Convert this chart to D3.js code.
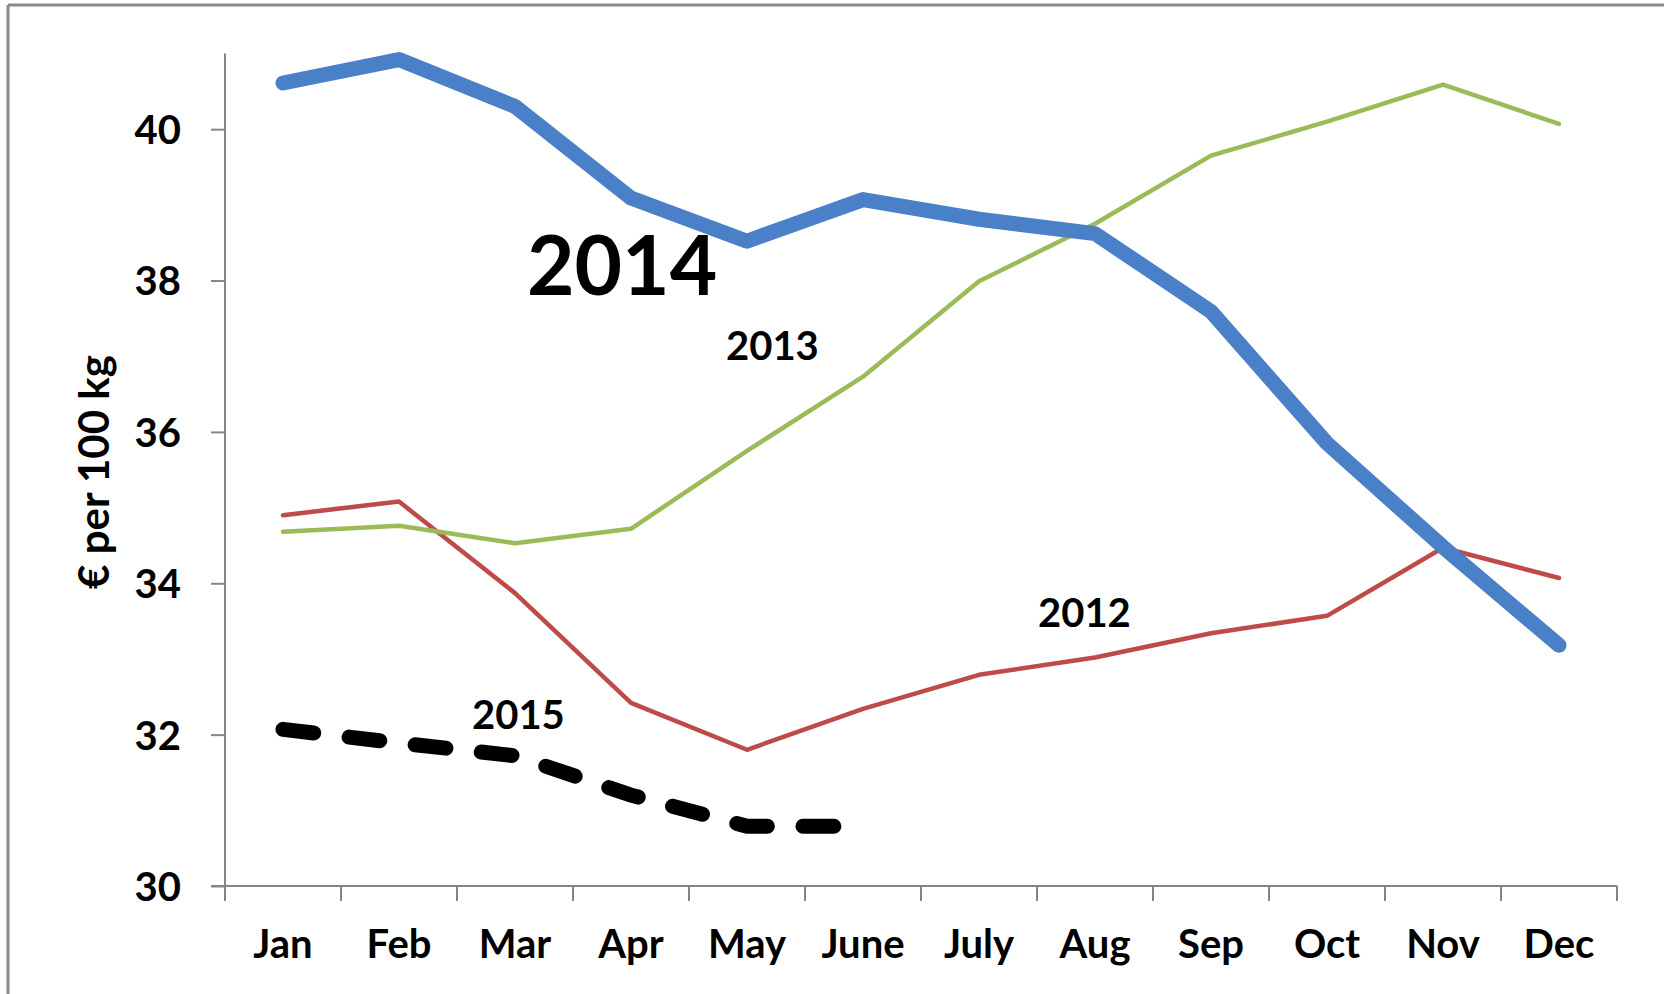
<!DOCTYPE html>
<html>
<head>
<meta charset="utf-8">
<script src="https://cdn.jsdelivr.net/npm/d3@7"></script>
<style>
  html, body { margin: 0; padding: 0; background: #fff; }
  svg { display: block; }
  text { font-family: Lato, "Open Sans", sans-serif; font-weight: bold; fill: #000; }
</style>
</head>
<body>
<svg id="chart" width="1664" height="994"></svg>
<script>
const months = ["Jan","Feb","Mar","Apr","May","June","July","Aug","Sep","Oct","Nov","Dec"];
const yTicks = [30, 32, 34, 36, 38, 40];
const v2012 = [34.90, 35.08, 33.87, 32.42, 31.80, 32.34, 32.79, 33.02, 33.34, 33.57, 34.47, 34.07];
const v2013 = [34.68, 34.76, 34.53, 34.72, 35.75, 36.73, 37.99, 38.75, 39.65, 40.10, 40.59, 40.07];
const v2014 = [40.61, 40.92, 40.30, 39.09, 38.52, 39.07, 38.81, 38.62, 37.59, 35.85, 34.48, 33.18];
const v2015 = [32.07, 31.89, 31.72, 31.20, 30.79, 30.79];
const seriesNames = ["2012", "2013", "2014", "2015"];

const svg = d3.select("#chart");

// frame (top and left edges visible)
svg.append("line").attr("x1", 8).attr("x2", 1664).attr("y1", 5).attr("y2", 5)
  .attr("stroke", "#8a8a8a").attr("stroke-width", 3);
svg.append("line").attr("x1", 8).attr("x2", 8).attr("y1", 5).attr("y2", 994)
  .attr("stroke", "#8a8a8a").attr("stroke-width", 3);

const x = d3.scaleBand().domain(months).range([225, 1617]).padding(0);
const y = d3.scaleLinear().domain([30, 41]).range([886, 53.5]);
const cx = m => x(m) + x.bandwidth() / 2;

// y axis
const yAxis = d3.axisLeft(y).tickValues(yTicks).tickSize(14).tickPadding(30).tickFormat(d3.format("d"));
const gy = svg.append("g").attr("transform", "translate(225,0)").call(yAxis);
gy.select(".domain").attr("stroke", "#868686").attr("stroke-width", 2).attr("d", `M-14,${y(30)}H0V${y(41)}`);
gy.selectAll(".tick line").attr("stroke", "#868686").attr("stroke-width", 2);
gy.selectAll(".tick text").style("font-size", "40px").attr("dy", "0.36em");

// x axis: ticks between categories
const xAxis = d3.axisBottom(x).tickSize(0).tickPadding(44);
const gx = svg.append("g").attr("transform", "translate(0,886)").call(xAxis);
gx.select(".domain").attr("stroke", "#868686").attr("stroke-width", 2).attr("d", "M225,0H1617");
gx.selectAll(".tick text").style("font-size", "40px").attr("dy", "0.71em");
const bounds = months.map(m => x(m)).concat([x(months[months.length - 1]) + x.bandwidth()]);
gx.selectAll(".sep").data(bounds).enter().append("line")
  .attr("x1", d => d).attr("x2", d => d).attr("y1", 0).attr("y2", 15)
  .attr("stroke", "#868686").attr("stroke-width", 2);

// y axis title
svg.append("text")
  .attr("transform", "translate(109,472) rotate(-90)")
  .attr("text-anchor", "middle")
  .style("font-size", "42px")
  .text("€ per 100 kg");

const line = d3.line().x((d, i) => cx(months[i])).y(d => y(d));

svg.append("path").datum(v2012).attr("d", line).attr("fill", "none")
  .attr("stroke", "#BE4B48").attr("stroke-width", 4.5).attr("stroke-linejoin", "round").attr("stroke-linecap", "round");
svg.append("path").datum(v2013).attr("d", line).attr("fill", "none")
  .attr("stroke", "#9BBB59").attr("stroke-width", 4.5).attr("stroke-linejoin", "round").attr("stroke-linecap", "round");
svg.append("path").datum(v2014).attr("d", line).attr("fill", "none")
  .attr("stroke", "#4A80C8").attr("stroke-width", 15).attr("stroke-linejoin", "round").attr("stroke-linecap", "round");
svg.append("path").datum(v2015).attr("d", line).attr("fill", "none")
  .attr("stroke", "#000").attr("stroke-width", 15).attr("stroke-linecap", "round")
  .attr("stroke-dasharray", "31,35.5");

// annotations
svg.append("text").attr("x", 527).attr("y", 295).style("font-size", "82px").text(seriesNames[2]);
svg.append("text").attr("x", 726).attr("y", 360).style("font-size", "40px").text(seriesNames[1]);
svg.append("text").attr("x", 1038).attr("y", 627).style("font-size", "40px").text(seriesNames[0]);
svg.append("text").attr("x", 472).attr("y", 729).style("font-size", "40px").text(seriesNames[3]);
</script>
</body>
</html>
